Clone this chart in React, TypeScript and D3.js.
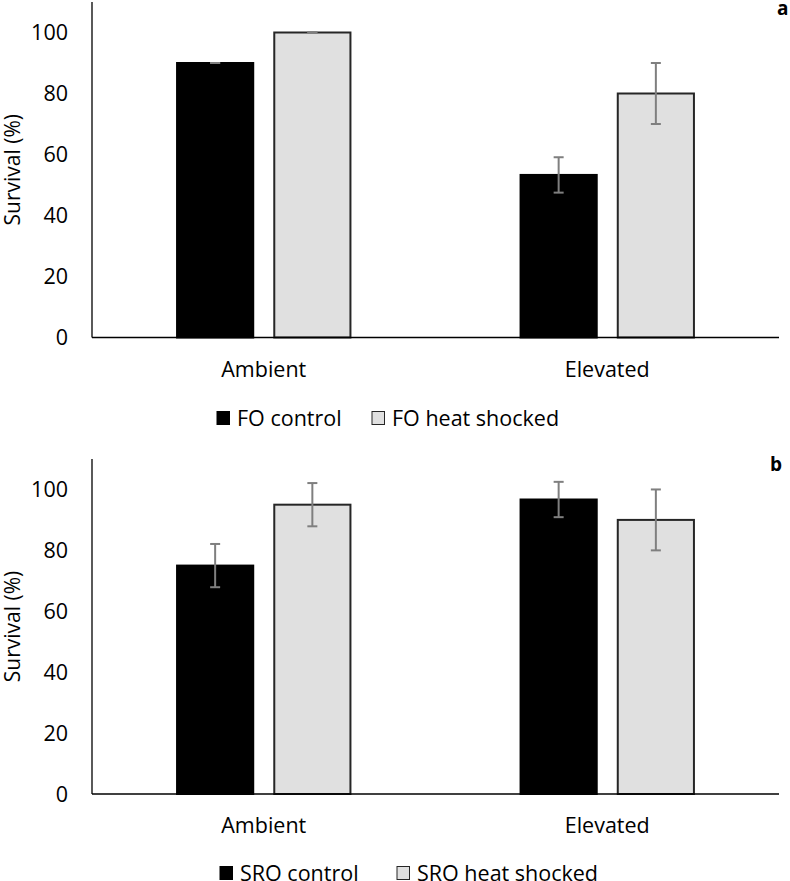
import * as React from 'react';
import * as d3 from 'd3';

const categories = ['Ambient', 'Elevated'];
const yTicks = [0, 20, 40, 60, 80, 100];

// panel a
const foSeries = ['FO control', 'FO heat shocked'];
const foControl = [90, 53.3];
const foControlErr = [0, 5.8];
const foHeat = [100, 80];
const foHeatErr = [0, 10];

// panel b
const sroSeries = ['SRO control', 'SRO heat shocked'];
const sroControl = [75, 96.7];
const sroControlErr = [7.1, 5.8];
const sroHeat = [95, 90];
const sroHeatErr = [7.1, 10];

const W = 790;
const H = 881;
const FONT = '"Open Sans", "Noto Sans", sans-serif';
const fills = ['#000000', '#e0e0e0'];
const strokes = ['#000000', '#262626'];

type PanelProps = {
  top: number;
  base: number;
  tag: string;
  tagX: number;
  tagY: number;
  series: string[];
  values: number[][];
  errors: number[][];
  legendX: number[];
  legendY: number;
};

const Panel = ({ top, base, tag, tagX, tagY, series, values, errors, legendX, legendY }: PanelProps) => {
  const left = 92;
  const right = 779;
  const x0 = d3.scaleBand().domain(categories).range([left, right]).padding(0);
  const x1 = d3.scaleBand().domain(series).range([0, x0.bandwidth()])
    .paddingInner(0.2165).paddingOuter(0.875);
  const y = d3.scaleLinear().domain([0, 110]).range([base, top]);

  return (
    <g>
      {/* y axis title */}
      <text
        transform={`translate(13,${(top + base) / 2}) rotate(-90)`}
        textAnchor="middle" dy="0.35em" fontSize={21} fontFamily={FONT} fill="#000"
      >Survival (%)</text>

      {yTicks.map(t => (
        <text key={t} x={68} y={y(t)} dy="0.35em" textAnchor="end"
          fontSize={21.5} fontFamily={FONT} fill="#000">{t}</text>
      ))}

      {categories.map((c, ci) => series.map((s, si) => {
        const v = values[si][ci];
        const e = errors[si][ci];
        const bx = (x0(c) as number) + (x1(s) as number);
        const bw = x1.bandwidth();
        const cx = bx + bw / 2;
        return (
          <g key={c + s}>
            <rect x={bx} y={y(v)} width={bw} height={base - y(v)}
              fill={fills[si]} stroke={strokes[si]} strokeWidth={2} />
            <line x1={cx} x2={cx} y1={y(v + e)} y2={y(v - e)} stroke="#7f7f7f" strokeWidth={2} />
            <line x1={cx - 5} x2={cx + 5} y1={y(v + e)} y2={y(v + e)} stroke="#7f7f7f" strokeWidth={2} />
            <line x1={cx - 5} x2={cx + 5} y1={y(v - e)} y2={y(v - e)} stroke="#7f7f7f" strokeWidth={2} />
          </g>
        );
      }))}

      {/* axes */}
      <line x1={left} x2={left} y1={y(110)} y2={base} stroke="#000" strokeWidth={1.3} />
      <line x1={left} x2={right} y1={base} y2={base} stroke="#000" strokeWidth={1.3} />

      {categories.map(c => (
        <text key={c} x={(x0(c) as number) + x0.bandwidth() / 2} y={base + 31.5} dy="0.35em"
          textAnchor="middle" fontSize={21.5} fontFamily={FONT} fill="#000">{c}</text>
      ))}

      {/* legend */}
      {series.map((s, si) => (
        <g key={s}>
          <rect x={legendX[si]} y={legendY - 6.5} width={12.5} height={13}
            fill={fills[si]} stroke={strokes[si]} strokeWidth={1} />
          <text x={legendX[si] + 20} y={legendY} dy="0.35em" fontSize={21.5}
            fontFamily={FONT} fill="#000">{s}</text>
        </g>
      ))}

      <text x={tagX} y={tagY} fontSize={19} fontWeight="bold" fontFamily={FONT} fill="#000">{tag}</text>
    </g>
  );
};

const App = () => (
  <svg width={W} height={H} viewBox={`0 0 ${W} ${H}`}
    style={{ position: 'absolute', left: 0, top: 0, background: '#fff' }}>
    <rect width={W} height={H} fill="#fff" />
    <Panel top={2} base={337.5} tag="a" tagX={777} tagY={15}
      series={foSeries} values={[foControl, foHeat]} errors={[foControlErr, foHeatErr]}
      legendX={[217, 372]} legendY={418} />
    <Panel top={459} base={794} tag="b" tagX={770} tagY={471}
      series={sroSeries} values={[sroControl, sroHeat]} errors={[sroControlErr, sroHeatErr]}
      legendX={[220, 397]} legendY={873} />
  </svg>
);

export default App;
